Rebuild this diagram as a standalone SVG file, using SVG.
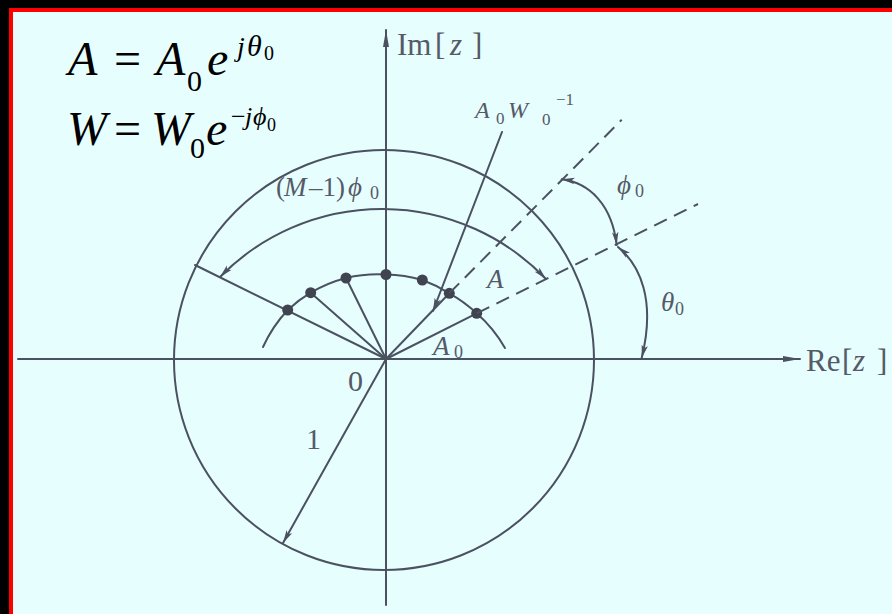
<svg xmlns="http://www.w3.org/2000/svg" width="892" height="614" viewBox="0 0 892 614">
<style>
.ln{fill:none;stroke:#4b5160;stroke-width:2;stroke-linecap:round}
.ds{fill:none;stroke:#4b5160;stroke-width:2;stroke-dasharray:14 8}
.dot{fill:#3f4450}
.lb{fill:#555a66}
.it{font-style:italic}
.f{font-style:italic;font-size:48px;fill:#000}
.up{font-style:normal}
text{font-family:'Times New Roman','Liberation Serif',Tinos,'Nimbus Roman','DejaVu Serif',serif}
</style>
<defs>
<marker id="ah" markerUnits="userSpaceOnUse" markerWidth="14" markerHeight="8" refX="13" refY="4" orient="auto-start-reverse">
<path d="M0,0.8 L13,4 L0,7.2 L3,4 z" fill="#4b5160"/>
</marker>
<marker id="axh" markerUnits="userSpaceOnUse" markerWidth="18" markerHeight="8" refX="17" refY="4" orient="auto">
<path d="M0,1 L17,4 L0,7 z" fill="#4b5160"/>
</marker>
</defs>
<rect x="0" y="0" width="892" height="614" fill="#000"/>
<rect x="9" y="8" width="883" height="606" fill="#ff0000"/>
<rect x="13" y="12" width="879" height="602" fill="#e6fefe"/>

<g id="formulas">
<text class="f" y="75"><tspan x="68">A</tspan><tspan x="114" class="up">=</tspan><tspan x="156">A</tspan><tspan x="187" y="91" font-size="30" class="up">0</tspan><tspan x="207" y="75">e</tspan><tspan x="237" y="56" font-size="28">j</tspan><tspan x="247" y="56" font-size="30">θ</tspan><tspan x="264" y="60" font-size="20" class="up">0</tspan></text>
<text class="f" y="145"><tspan x="67">W</tspan><tspan x="114" class="up">=</tspan><tspan x="151">W</tspan><tspan x="190" y="158" font-size="30" class="up">0</tspan><tspan x="206" y="145">e</tspan><tspan x="231" y="125" font-size="26" class="up">−</tspan><tspan x="245" y="125" font-size="26">j</tspan><tspan x="253" y="125" font-size="26">ϕ</tspan><tspan x="267" y="131" font-size="18" class="up">0</tspan></text>
</g>

<g id="axes">
<line class="ln" x1="386" y1="605" x2="386" y2="30" marker-end="url(#axh)"/>
<line class="ln" x1="18" y1="359" x2="800" y2="359" marker-end="url(#axh)"/>
<text class="lb" y="55" font-size="31"><tspan x="397">Im</tspan><tspan x="435">[</tspan><tspan x="450" class="it">z</tspan><tspan x="472">]</tspan></text>
<text class="lb" y="371" font-size="31"><tspan x="806">Re</tspan><tspan x="842">[</tspan><tspan x="853" class="it">z</tspan><tspan x="877">]</tspan></text>
<text class="lb" x="348" y="391" font-size="30">0</text>
</g>

<g id="unit-circle">
<circle class="ln" cx="384" cy="360" r="210"/>
<line class="ln" x1="386" y1="359" x2="283" y2="543" marker-end="url(#ah)"/>
<text class="lb" x="306" y="449" font-size="30">1</text>
</g>

<g id="spokes">
<line class="ln" x1="386" y1="359" x2="195" y2="265"/>
<line class="ln" x1="386" y1="359" x2="310.7" y2="292.7"/>
<line class="ln" x1="386" y1="359" x2="346" y2="278"/>
<line class="ln" x1="386" y1="359" x2="449.3" y2="293.3"/>
<line class="ln" x1="386" y1="359" x2="476.7" y2="313.3"/>
</g>

<g id="contour">
<path class="ln" d="M263,347 A138,138 0 0 1 287.7,310 A138,138 0 0 1 310.7,292.7 A138,138 0 0 1 346,278 A138,138 0 0 1 386,274.5 A138,138 0 0 1 422.3,280 A138,138 0 0 1 449.3,293.3 A138,138 0 0 1 476.7,313.3 A138,138 0 0 1 505,348"/>
<circle class="dot" cx="287.7" cy="310" r="5.5"/>
<circle class="dot" cx="310.7" cy="292.7" r="5.5"/>
<circle class="dot" cx="346" cy="278" r="5.5"/>
<circle class="dot" cx="386" cy="274.5" r="5.5"/>
<circle class="dot" cx="422.3" cy="280" r="5.5"/>
<circle class="dot" cx="449.3" cy="293.3" r="5.5"/>
<circle class="dot" cx="476.7" cy="313.3" r="5.5"/>
</g>

<g id="connectors">
<line class="ds" x1="476.7" y1="313.3" x2="698" y2="204"/>
<line class="ds" x1="449.3" y1="293.3" x2="621.7" y2="119.8"/>
<path class="ln" d="M220,277 A227,227 0 0 1 546,279" marker-start="url(#ah)" marker-end="url(#ah)"/>
<line class="ln" x1="502" y1="132" x2="433" y2="311" marker-end="url(#ah)"/>
<path class="ln" d="M616.7,245 C612,205 590,183 561.7,179.3" marker-start="url(#ah)" marker-end="url(#ah)"/>
<path class="ln" d="M618,247 C640,265 656,300 641.7,358" marker-start="url(#ah)" marker-end="url(#ah)"/>
</g>

<g id="labels">
<text class="lb" y="196" font-size="27"><tspan x="276">(</tspan><tspan x="284" class="it">M</tspan><tspan x="309">–1)</tspan><tspan x="348" class="it">ϕ</tspan><tspan x="370" y="199" font-size="18">0</tspan></text>
<text class="lb" y="118" font-size="24"><tspan x="475" class="it">A</tspan><tspan x="496" y="124" font-size="17">0</tspan><tspan x="508" y="118" class="it">W</tspan><tspan x="542" y="125" font-size="17">0</tspan><tspan x="556" y="105" font-size="17">−1</tspan></text>
<text class="lb" y="194" font-size="27"><tspan x="617" class="it">ϕ</tspan><tspan x="635" y="197" font-size="18">0</tspan></text>
<text class="lb" y="311" font-size="27"><tspan x="661" class="it">θ</tspan><tspan x="675" y="315" font-size="18">0</tspan></text>
<text class="lb it" x="487" y="288" font-size="27">A</text>
<text class="lb" y="355" font-size="27"><tspan x="433" class="it">A</tspan><tspan x="454" y="358" font-size="18">0</tspan></text>
</g>
</svg>
